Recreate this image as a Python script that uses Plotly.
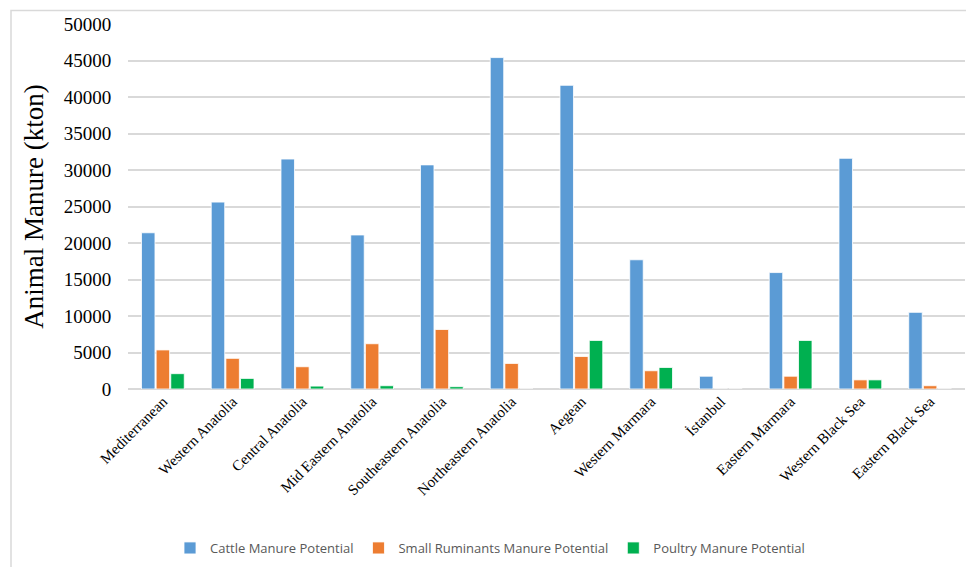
import plotly.graph_objects as go

regions = ["Mediterranean", "Western Anatolia", "Central Anatolia", "Mid Eastern Anatolia",
           "Southeastern Anatolia", "Northeastern Anatolia", "Aegean", "Western Marmara",
           "İstanbul", "Eastern Marmara", "Western Black Sea", "Eastern Black Sea"]
cattle = [21400, 25600, 31500, 21100, 30700, 45400, 41600, 17700, 1750, 15950, 31600, 10500]
small_ruminants = [5350, 4200, 3050, 6200, 8150, 3500, 4450, 2500, 0, 1750, 1250, 450]
poultry = [2100, 1450, 400, 450, 320, 0, 6650, 2950, 0, 6650, 1250, 0]
y_ticks = [0, 5000, 10000, 15000, 20000, 25000, 30000, 35000, 40000, 45000, 50000]

W, H = 966, 567
L, R, T, B = 128, 1, 24, 178
pw, ph = W - L - R, H - T - B

fig = go.Figure()
series = [("Cattle Manure Potential", cattle, "#5B9BD5"),
          ("Small Ruminants Manure Potential", small_ruminants, "#ED7D31"),
          ("Poultry Manure Potential", poultry, "#00B050")]
for name, vals, col in series:
    fig.add_trace(go.Bar(x=regions, y=vals, name=name,
                         marker=dict(color=col, line=dict(color="white", width=0.8))))

def px_x(p):
    return (p - L) / pw

def px_y(p):
    return (H - B - p) / ph

fig.update_layout(
    width=W, height=H,
    margin=dict(l=L, r=R, t=T, b=B),
    paper_bgcolor="white", plot_bgcolor="white",
    barmode="group", bargap=0.37, bargroupgap=0.08,
    showlegend=True,
    legend=dict(orientation="h", x=px_x(490), y=px_y(548), xanchor="center", yanchor="middle",
                font=dict(family="Open Sans", size=13, color="#595959"),
                itemwidth=30, traceorder="normal"),
    xaxis=dict(tickangle=-45, tickfont=dict(family="Liberation Serif", size=15, color="#000000"),
               showgrid=False, showline=False, zeroline=False, ticks=""),
    yaxis=dict(range=[0, 50000], tickvals=y_ticks, ticktext=[str(v) for v in y_ticks],
               tickfont=dict(family="Liberation Serif", size=19, color="#000000"),
               showgrid=True, gridcolor="#D9D9D9", gridwidth=1.5,
               zeroline=True, zerolinecolor="#D9D9D9", zerolinewidth=1.5,
               ticks="outside", ticklen=12, tickcolor="rgba(0,0,0,0)",
               title=dict(text="Animal Manure (kton)",
                          font=dict(family="Liberation Serif", size=27, color="#000000"),
                          standoff=12)),
    shapes=[dict(type="rect", xref="paper", yref="paper",
                 x0=px_x(11), x1=px_x(975), y0=px_y(600), y1=px_y(10.5),
                 line=dict(color="#D9D9D9", width=1.5), fillcolor="rgba(0,0,0,0)", layer="below")],
)

fig.write_html("out.html")
